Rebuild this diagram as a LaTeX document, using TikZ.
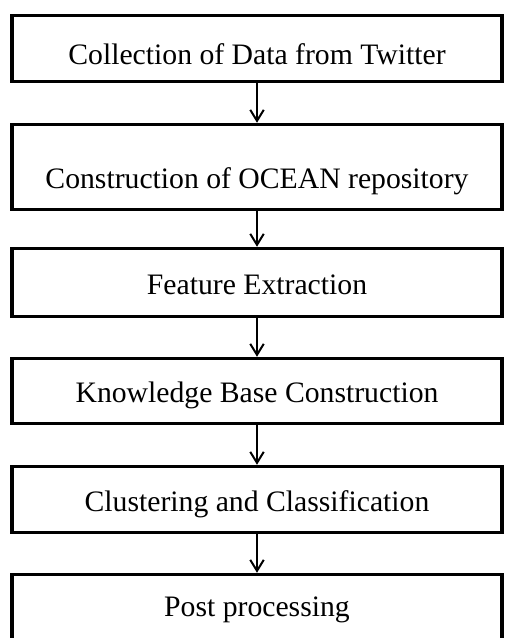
\documentclass[tikz,border=0pt]{standalone}
\usepackage{fontspec}
\setmainfont{Liberation Serif}
\usetikzlibrary{arrows.meta}

\tikzset{
  stagebox/.style={draw, line width=0.07cm, minimum width=9.8cm, inner sep=0pt,
    text depth=0pt, font=\fontsize{16.9}{20}\selectfont},
  flowarrow/.style={line width=0.04cm,
    -{Straight Barb[length=0.22cm, width=0.27cm, line width=0.04cm]}}
}

\begin{document}
\begin{tikzpicture}[x=0.02cm, y=-0.02cm]
    \useasboundingbox (0,0) rectangle (504,638);
    \clip (0,0) rectangle (504,638);

    % the six stages, top to bottom
    \foreach \i/\y/\h/\th/\txt in {
        1/48.5/1.32/0.632/Collection of Data from Twitter,
        2/167/1.70/0.85/Construction of OCEAN repository,
        3/282.5/1.36/0.49/Feature Extraction,
        4/391/1.30/0.47/Knowledge Base Construction,
        5/499.5/1.32/0.47/Clustering and Classification,
        6/609.5/1.40/0.29/Post processing
    }{
        \node[stagebox, minimum height=\h cm, text height=\th cm] (s\i) at (257,\y) {\txt};
    }

    \foreach \a/\b in {1/2, 2/3, 3/4, 4/5, 5/6}
        \draw[flowarrow] (s\a) -- (s\b);
\end{tikzpicture}
\end{document}
